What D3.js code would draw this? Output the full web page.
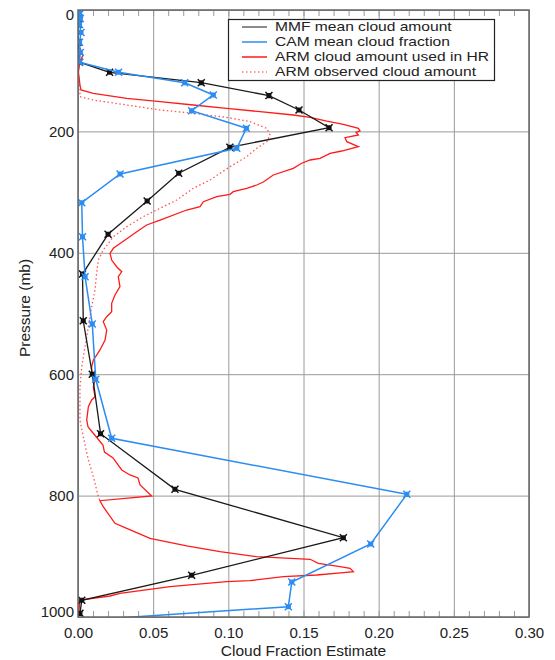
<!DOCTYPE html>
<html>
<head>
<meta charset="utf-8">
<script src="https://cdn.jsdelivr.net/npm/d3@7"></script>
<style>
  body { margin: 0; background: #fff; }
  text { font-family: "Liberation Sans", Arial, sans-serif; }
</style>
</head>
<body>
<div id="container"></div>
<script>
// values (cloud fraction vs pressure in mb)
let mmfPressure = [3.5, 24, 53, 86, 102.6, 119.8, 141, 164.7, 193.9, 226.2, 269, 314.7, 369.5, 435, 512, 600, 698, 789.6, 869.4, 931.3, 972.5, 994];
let mmfValue    = [0, 0, 0, 0.001, 0.021, 0.082, 0.127, 0.147, 0.167, 0.101, 0.067, 0.046, 0.020, 0.003, 0.0035, 0.0095, 0.015, 0.0645, 0.1765, 0.0756, 0.0025, 0.0013];

let camPressure = [3.5, 7.4, 14, 24, 37, 53, 70, 86, 102.6, 119.8, 140, 165.9, 194.9, 227.8, 270.2, 317.5, 373.5, 439.4, 517.3, 608.4, 705.6, 797.9, 879.7, 942.4, 983, 1006];
let camValue    = [0.001, 0.001, 0.0015, 0.001, 0.002, 0.001, 0.0015, 0.001, 0.027, 0.071, 0.090, 0.0756, 0.112, 0.1056, 0.028, 0.0025, 0.003, 0.0047, 0.0095, 0.0118, 0.0224, 0.2187, 0.1947, 0.1422, 0.1399, 0.0];

let armUsedPressure = [62.6, 74.1, 85.7, 102.1, 123.6, 131.8, 137.2, 145.5, 151.1, 156.5, 161.9, 167.5, 173.0, 176.8, 182.9, 188.3, 194.9, 199.3, 201.5, 205.9, 210.4, 217.0, 225.2, 232.3, 236.1, 244.3, 247.1, 252.5, 260.8, 271.8, 283.4, 288.3, 293.7, 299.3, 303.6, 307.6, 315.8, 324.0, 329.5, 346.0, 354.2, 365.2, 379.0, 392.6, 400.8, 411.9, 422.9, 431.1, 439.4, 455.8, 469.5, 483.2, 497.0, 505.3, 513.5, 527.2, 543.6, 560.1, 568.4, 576.6, 587.6, 598.5, 609.5, 620.6, 637.0, 642.5, 653.5, 675.4, 687.0, 696.9, 716.6, 728.2, 738.0, 757.8, 766.0, 771.0, 782.5, 800.6, 808.4, 818.3, 845.6, 853.9, 870.3, 883.0, 892.4, 900.6, 904.9, 911.5, 917.1, 919.7, 925.3, 927.0, 930.8, 933.6, 940.2, 941.8, 950.1, 960.9, 965.4, 972.0, 1000];
let armUsedValue    = [0.0013, 0.0033, 0.0013, 0.0003, 0.0013, 0.002, 0.0102, 0.0324, 0.0546, 0.0767, 0.0989, 0.1211, 0.1432, 0.1544, 0.1655, 0.1765, 0.1865, 0.1876, 0.185, 0.1865, 0.1776, 0.1788, 0.1865, 0.1754, 0.1677, 0.1610, 0.1544, 0.1488, 0.1432, 0.1299, 0.1233, 0.1189, 0.1122, 0.1033, 0.1011, 0.0923, 0.0834, 0.0812, 0.0723, 0.0546, 0.0457, 0.0391, 0.0313, 0.0235, 0.0213, 0.0224, 0.0257, 0.0291, 0.0268, 0.0279, 0.0246, 0.0224, 0.0224, 0.0191, 0.0168, 0.0191, 0.0180, 0.0146, 0.0124, 0.0102, 0.0091, 0.0091, 0.0113, 0.0102, 0.0113, 0.0091, 0.0069, 0.0058, 0.0067, 0.0100, 0.0166, 0.0176, 0.0233, 0.0291, 0.0346, 0.0399, 0.0413, 0.0490, 0.0146, 0.0168, 0.0246, 0.0324, 0.0479, 0.0723, 0.0945, 0.1189, 0.1544, 0.1599, 0.1743, 0.1810, 0.1832, 0.1765, 0.1588, 0.1366, 0.1144, 0.0989, 0.0612, 0.0279, 0.0213, 0.0013, 0.0003];

let armObsPressure = [110, 128.5, 142.8, 148.3, 156.5, 164.7, 170.2, 176.8, 184.0, 194.9, 205.9, 217.0, 227.8, 241.7, 258.1, 280.1, 293.7, 313.0, 326.7, 340.5, 357.0, 373.5, 395.4, 411.9, 433.8, 461.3, 488.8, 521.7, 554.7, 587.6, 620.6, 653.5, 675.4, 702.9, 741.3, 768.8, 801.8, 808.4];
let armObsValue    = [0.0005, 0.0013, 0.0013, 0.0102, 0.0324, 0.0546, 0.0767, 0.0989, 0.1144, 0.1256, 0.1277, 0.1256, 0.1189, 0.1122, 0.1011, 0.0878, 0.0767, 0.0657, 0.0546, 0.0434, 0.0324, 0.0235, 0.0168, 0.0135, 0.0124, 0.0113, 0.0091, 0.0069, 0.0047, 0.0025, 0.0013, 0.0013, 0.0013, 0.0035, 0.0069, 0.0102, 0.0135, 0.0146];

let xTicks = [0, 0.05, 0.10, 0.15, 0.20, 0.25, 0.30];
let yTicks = [0, 200, 400, 600, 800, 1000];
let legendLabels = ["MMF mean cloud amount", "CAM mean cloud fraction", "ARM cloud amount used in HR", "ARM observed cloud amount"];

let w = 555;
let h = 660;
let plotLeft = 78, plotRight = 529, plotTop = 10, plotBottom = 617;

let viz = d3.select("#container")
  .append("svg")
    .attr("width", w)
    .attr("height", h)
;

let xScale = d3.scaleLinear().domain([0, 0.30]).range([plotLeft, plotRight]);
let yScale = d3.scaleLinear().domain([0, 1000]).range([plotTop, plotBottom]);

// grid lines
let gridX = viz.append("g")
  .attr("transform", "translate(0," + plotBottom + ")")
  .call(d3.axisBottom(xScale).tickValues(xTicks).tickSize(-(plotBottom - plotTop)).tickFormat(""));
gridX.select(".domain").remove();
gridX.selectAll("line").attr("stroke", "#9a9a9a");

let gridY = viz.append("g")
  .attr("transform", "translate(" + plotLeft + ",0)")
  .call(d3.axisLeft(yScale).tickValues(yTicks).tickSize(-(plotRight - plotLeft)).tickFormat(""));
gridY.select(".domain").remove();
gridY.selectAll("line").attr("stroke", "#9a9a9a");

// minor ticks top and bottom
let minor = d3.range(0, 0.3001, 0.01);
let minorB = viz.append("g")
  .attr("transform", "translate(0," + plotBottom + ")")
  .call(d3.axisBottom(xScale).tickValues(minor).tickSize(-6).tickFormat(""));
minorB.select(".domain").remove();
minorB.selectAll("line").attr("stroke", "#999");
let minorT = viz.append("g")
  .attr("transform", "translate(0," + plotTop + ")")
  .call(d3.axisTop(xScale).tickValues(minor).tickSize(-6).tickFormat(""));
minorT.select(".domain").remove();
minorT.selectAll("line").attr("stroke", "#999");

// tick labels
let xAxis = viz.append("g")
  .attr("transform", "translate(0," + plotBottom + ")")
  .call(d3.axisBottom(xScale).tickValues(xTicks).tickSize(0).tickPadding(10).tickFormat(d3.format(".2f")));
xAxis.select(".domain").remove();
xAxis.selectAll("text").attr("font-size", 15).attr("font-family", "Liberation Sans, Arial, sans-serif").attr("fill", "#222");

let yAxis = viz.append("g")
  .attr("transform", "translate(" + plotLeft + ",0)")
  .call(d3.axisLeft(yScale).tickValues(yTicks).tickSize(0).tickPadding(4).tickFormat(d3.format("d")));
yAxis.select(".domain").remove();
yAxis.selectAll("text").attr("font-size", 15).attr("font-family", "Liberation Sans, Arial, sans-serif").attr("fill", "#222")
  .attr("y", function(d){ return d == 0 ? 5 : (d == 1000 ? -5 : 0); });

// clip
viz.append("clipPath").attr("id", "plot")
  .append("rect").attr("x", plotLeft).attr("y", plotTop).attr("width", plotRight - plotLeft).attr("height", plotBottom - plotTop);

let lineMaker = d3.line()
  .x(function(d){ return xScale(d[0]); })
  .y(function(d){ return yScale(d[1]); });

let lines = viz.append("g").attr("clip-path", "url(#plot)");

let obsData = d3.zip(armObsValue, armObsPressure);
let usedData = d3.zip(armUsedValue, armUsedPressure);
let mmfData = d3.zip(mmfValue, mmfPressure);
let camData = d3.zip(camValue, camPressure);

lines.append("path").datum(obsData).attr("d", lineMaker)
  .attr("fill", "none").attr("stroke", "#ff5555").attr("stroke-width", 1.3).attr("stroke-dasharray", "1.5,2.5");
lines.append("path").datum(usedData).attr("d", lineMaker)
  .attr("fill", "none").attr("stroke", "#ff1a1a").attr("stroke-width", 1.3);

// x-shaped markers with a small solid middle
let marker = "M-3.5,-3.5L3.5,3.5M-3.5,3.5L3.5,-3.5M-1.8,-1.8H1.8V1.8H-1.8Z";

lines.append("path").datum(mmfData).attr("d", lineMaker)
  .attr("fill", "none").attr("stroke", "#1a1a1a").attr("stroke-width", 1.3);
lines.selectAll(".mmf").data(mmfData).enter()
  .append("path").attr("class", "mmf").attr("d", marker)
  .attr("transform", function(d){ return "translate(" + xScale(d[0]) + "," + yScale(d[1]) + ")"; })
  .attr("fill", "#111").attr("stroke", "#111").attr("stroke-width", 1.5);

lines.append("path").datum(camData).attr("d", lineMaker)
  .attr("fill", "none").attr("stroke", "#2b8cf2").attr("stroke-width", 1.5);
lines.selectAll(".cam").data(camData).enter()
  .append("path").attr("class", "cam").attr("d", marker)
  .attr("transform", function(d){ return "translate(" + xScale(d[0]) + "," + yScale(d[1]) + ")"; })
  .attr("fill", "#2b8cf2").attr("stroke", "#2b8cf2").attr("stroke-width", 1.5);

// frame
viz.append("rect").attr("x", plotLeft).attr("y", plotTop).attr("width", plotRight - plotLeft).attr("height", plotBottom - plotTop)
  .attr("fill", "none").attr("stroke", "#666").attr("stroke-width", 1.5);

// legend
let legend = viz.append("g");
legend.append("rect").attr("x", 228.5).attr("y", 19.5).attr("width", 266).attr("height", 61)
  .attr("fill", "#fff").attr("stroke", "#222").attr("stroke-width", 1.2);
let legendColors = ["#666", "#2b8cf2", "#ff1a1a", "#ff7777"];
legendLabels.forEach(function(label, i){
  let yy = 31 + i * 15;
  legend.append("line").attr("x1", 242).attr("x2", 267).attr("y1", yy - 4).attr("y2", yy - 4)
    .attr("stroke", legendColors[i]).attr("stroke-width", 1.5)
    .attr("stroke-dasharray", i == 3 ? "1.5,2.5" : null);
  legend.append("text").attr("transform", "translate(275," + yy + ") scale(1.2,1)")
    .attr("font-size", 13).attr("fill", "#222").text(label);
});

// axis titles
viz.append("text").attr("x", (plotLeft + plotRight) / 2).attr("y", 656).attr("text-anchor", "middle")
  .attr("font-size", 15.5).attr("fill", "#222").text("Cloud Fraction Estimate");
viz.append("text").attr("transform", "translate(30,308) rotate(-90)").attr("text-anchor", "middle")
  .attr("font-size", 15.5).attr("fill", "#222").text("Pressure (mb)");
</script>
</body>
</html>
